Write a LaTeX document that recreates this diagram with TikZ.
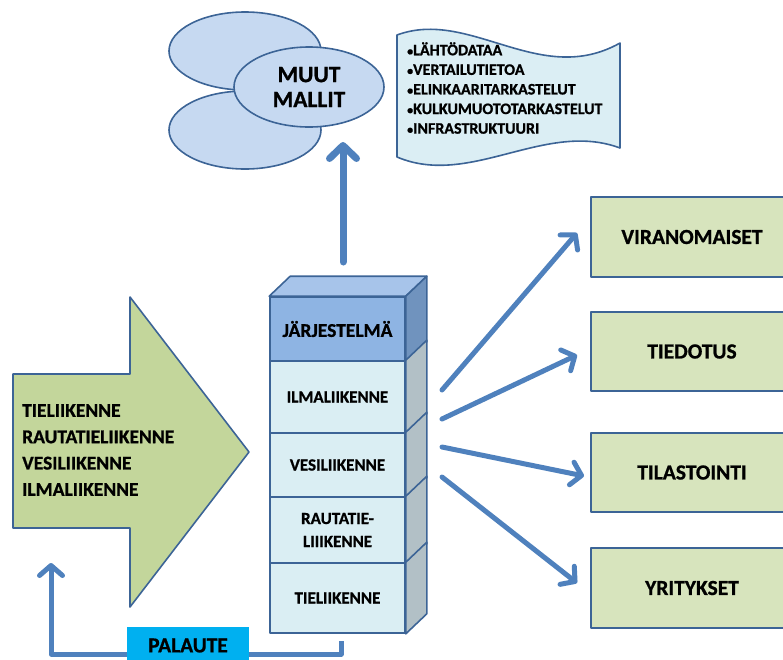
\documentclass[tikz,border=0pt]{standalone}
\usepackage{fontspec}
\setmainfont{Carlito}[BoldFont={Carlito Bold}, BoldFeatures={FakeBold=0.9}]
\usetikzlibrary{arrows.meta,calc,shapes.geometric}

\definecolor{edge}{HTML}{3C6496}
\definecolor{flow}{HTML}{4F81BD}
\definecolor{cloudfill}{HTML}{C6D9F1}
\definecolor{notefill}{HTML}{DBEEF4}
\definecolor{inputfill}{HTML}{C3D69B}
\definecolor{outfill}{HTML}{D7E4BD}
\definecolor{topface}{HTML}{A7C4EA}
\definecolor{sysfront}{HTML}{8EB4E3}
\definecolor{sysside}{HTML}{7093BE}
\definecolor{layerfront}{HTML}{DAEEF3}
\definecolor{layerside}{HTML}{B2C0C6}
\definecolor{feedfill}{HTML}{00B0F0}

\newcommand{\itemdot}{{\fontsize{12}{0}\selectfont•}}

\tikzset{
  outline/.style={draw=edge, line width=1.6pt, line join=round},
  cloud/.style={outline, ellipse, fill=cloudfill, minimum width=152pt, minimum height=78pt, inner sep=0pt},
  layer/.style={outline, rectangle, fill=layerfront, minimum width=135pt, inner sep=0pt, align=center,
    font=\bfseries\fontsize{17}{23}\selectfont},
  outbox/.style={outline, rectangle, fill=outfill, minimum width=202pt, minimum height=79pt, inner sep=0pt,
    font=\bfseries\fontsize{21.5}{25}\selectfont},
  flowarrow/.style={draw=flow, line width=5pt, line cap=round, line join=round,
    -{Straight Barb[length=10pt,width=23pt,line cap=round,line join=round]}},
  bigflow/.style={flowarrow, line width=7pt, -{Straight Barb[length=13pt,width=27pt,line cap=round,line join=round]}}
}

\begin{document}
\begin{tikzpicture}[x=1pt,y=-1pt]
\useasboundingbox (0,0) rectangle (783,659);

% other models: three overlapping ellipses
\node[cloud] (cloudA) at (245,51) {};
\node[cloud] (cloudB) at (245,130) {};
\node[cloud, minimum width=150pt, minimum height=80pt, align=center,
  font=\bfseries\fontsize{23.5}{25}\selectfont] (muut) at (309,87) {MUUT\\MALLIT};

% wavy note with the data items
\draw[outline, fill=notefill] (397,35) .. controls (470,8) and (540,88) .. (620,43)
  -- (620,148) .. controls (545,120) and (470,188) .. (397,157) -- cycle;
\node[anchor=west, align=left, inner sep=0pt, font=\bfseries\fontsize{16}{19.6}\selectfont]
  (notes) at (407,88) {\itemdot LÄHTÖDATAA\\\itemdot VERTAILUTIETOA\\\itemdot ELINKAARITARKASTELUT\\\itemdot KULKUMUOTOTARKASTELUT\\\itemdot INFRASTRUKTUURI};

% input: the transport modes
\draw[outline, fill=inputfill] (13,374) -- (130,374) -- (130,297) -- (249,452)
  -- (130,607) -- (130,528) -- (13,528) -- cycle;
\node[anchor=west, align=left, inner sep=0pt, font=\bfseries\fontsize{19.5}{26.3}\selectfont]
  (modes) at (22,450) {TIELIIKENNE\\RAUTATIELIIKENNE\\VESILIIKENNE\\ILMALIIKENNE};

% the system stack
\node[layer, fill=sysfront, minimum height=64pt, font=\bfseries\fontsize{19.5}{23}\selectfont]
  (jarj) at (337.5,329) {JÄRJESTELMÄ};
\node[layer, minimum height=72pt] (ilma) at (337.5,397) {ILMALIIKENNE};
\node[layer, minimum height=64pt] (vesi) at (337.5,465) {VESILIIKENNE};
\node[layer, minimum height=66pt] (raut) at (337.5,530) {RAUTATIE-\\LIIIKENNE};
\node[layer, minimum height=70pt] (tie) at (337.5,598) {TIELIIKENNE};

\draw[outline, fill=topface] (jarj.north west) -- ++(21,-20) -- ($(jarj.north east)+(21,-20)$)
  -- (jarj.north east) -- cycle;
\draw[outline, fill=sysside] (jarj.north east) -- ++(21,-20) -- ($(jarj.south east)+(21,-20)$)
  -- (jarj.south east) -- cycle;
\foreach \b in {ilma,vesi,raut,tie}
  \draw[outline, fill=layerside] (\b.north east) -- ++(21,-20) -- ($(\b.south east)+(21,-20)$)
    -- (\b.south east) -- cycle;

% output boxes
\node[outbox, minimum height=80pt] (vir) at (692,237) {VIRANOMAISET};
\node[outbox] (tied) at (692,351.5) {TIEDOTUS};
\node[outbox] (tila) at (692,472.5) {TILASTOINTI};
\node[outbox, minimum height=80pt] (yrit) at (692,588) {YRITYKSET};

% connectors
\coordinate (upStart) at (343,262);
\coordinate (upEnd) at (343,142);
\draw[bigflow] (upStart) -- (upEnd);

\coordinate (o1s) at (442,390); \coordinate (o1e) at (577,233);
\coordinate (o2s) at (442,419); \coordinate (o2e) at (577,355);
\coordinate (o3s) at (442,447); \coordinate (o3e) at (584,476);
\coordinate (o4s) at (442,477); \coordinate (o4e) at (577,583);
\draw[flowarrow] (o1s) -- (o1e);
\draw[flowarrow] (o2s) -- (o2e);
\draw[flowarrow] (o3s) -- (o3e);
\draw[flowarrow] (o4s) -- (o4e);

% feedback loop
\coordinate (fbStart) at (341,641);
\coordinate (fbEnd) at (51,563);
\draw[flowarrow, line cap=butt] (fbStart) |- (51,654) -- (fbEnd);
\node[fill=feedfill, minimum width=122pt, minimum height=37pt, inner sep=0pt,
  font=\bfseries\fontsize{21.4}{24}\selectfont] (palaute) at (188,645.5) {PALAUTE};
\end{tikzpicture}
\end{document}
